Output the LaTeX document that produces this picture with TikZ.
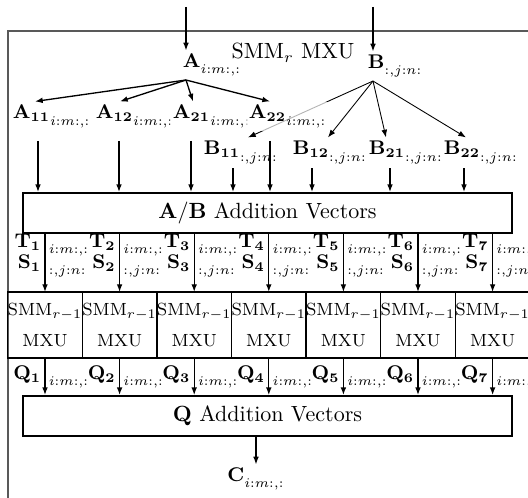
\documentclass[tikz,border=0pt]{standalone}
\usepackage{amsmath,amssymb,mathtools}
\usepackage{tikz}
\usetikzlibrary{positioning,arrows.meta,backgrounds}
\newcommand{\ixA}{_{\lower1.5pt\hbox{$\scriptstyle i:m:,:$}}}
\newcommand{\ixB}{_{\lower1.5pt\hbox{$\scriptstyle :,j:n:$}}}

\begin{document}
\begin{tikzpicture}[x=0.4545pt,y=-0.4545pt,semithick,>={Latex[length=3.5pt,width=2.6pt]},
    lbl/.style={font=\small,inner sep=1.5pt,fill=white,fill opacity=0.7,text opacity=1},
    tag/.style={font=\small,inner sep=1pt},
    bar/.style={draw,thick,minimum width=222.3pt,minimum height=18.2pt,inner sep=0pt},
    mxu/.style={draw,font=\footnotesize,minimum width=33.6pt,minimum height=30pt,
      align=center,inner sep=0pt,outer sep=0pt}]
  \useasboundingbox (0,0) rectangle (528,498);
  \clip (0,0) rectangle (528,498);
  % outer unit
  \draw[black!65] (8,31) rectangle (560,540);
  % inputs
  \coordinate (Ain) at (186,7);
  \coordinate (Bin) at (373,7);
  \node[lbl,anchor=base west] (A) at (179,68) {$\mathbf{A}\ixA$};
  \node[lbl,anchor=base west] (B) at (364,69) {$\mathbf{B}\ixB$};
  \node[anchor=base] (title) at (293,59) {SMM$_r$ MXU};
  \draw[->] (Ain) -- (Ain |- A.north);
  \draw[->] (Bin) -- (Bin |- B.north);
  % quarter blocks
  \foreach \n/\x in {11/9,12/92,21/169,22/245}
    \node[lbl,anchor=base west] (A\n) at (\x,119) {${\mathbf{A_{\n}}}\ixA$};
  \foreach \n/\x in {11/200,12/289,21/365,22/440}
    \node[lbl,anchor=base west] (B\n) at (\x,155) {${\mathbf{B_{\n}}}\ixB$};
  \node[bar] (AB) at (267.5,213) {$\mathbf{A}/\mathbf{B}$ Addition Vectors};
  % split arrows
  \foreach \n/\p/\q in {11/26/29,12/28/27,21/24/22,22/25/25} {
    \draw[->] (A.south -| Ain) -- ([shift={(\p,0)}]A\n.north west);
    \coordinate (a\n) at ([shift={(\q,0)}]A\n.south west);
    \draw[->,shorten <=4pt] (a\n) -- (a\n |- AB.north);
  }
  \begin{scope}[on background layer]
    \foreach \n/\p in {11/48,12/39,21/21,22/26}
      \draw[->] (B.south -| Bin) -- ([shift={(\p,0)}]B\n.north west);
  \end{scope}
  \foreach \n/\q in {11/33,12/23,21/25,22/24} {
    \coordinate (b\n) at ([shift={(\q,0)}]B\n.south west);
    \draw[->] (b\n) -- (b\n |- AB.north);
  }
  % sub-multipliers
  \node[mxu] (M1) at (45,325) {SMM$_{r-1}$\\[4.5pt]MXU};
  \foreach \i [count=\j from 1] in {2,...,7}
    \node[mxu,right=0pt of M\j] (M\i) {SMM$_{r-1}$\\[4.5pt]MXU};
  \node[bar] (Q) at (267.5,416) {$\mathbf{Q}$ Addition Vectors};
  \foreach \i in {1,...,7} {
    \draw[->] (M\i.north |- AB.south) -- (M\i.north);
    \draw[->] (M\i.south) -- (M\i.south |- Q.north);
    \node[tag,anchor=base east] (T\i) at ([shift={(-1,-44)}]M\i.north) {$\mathbf{T_{\i}}$};
    \node[tag,anchor=base west] (t\i) at ([shift={(1,-44)}]M\i.north) {$\ixA$};
    \node[tag,anchor=base east] (S\i) at ([shift={(-1,-23)}]M\i.north) {$\mathbf{S_{\i}}$};
    \node[tag,anchor=base west] (s\i) at ([shift={(1,-23)}]M\i.north) {$\ixB$};
    \node[tag,anchor=base east] (Q\i) at ([shift={(-1,22)}]M\i.south) {$\mathbf{Q_{\i}}$};
    \node[tag,anchor=base west] (q\i) at ([shift={(1,22)}]M\i.south) {$\ixA$};
  }
  % result
  \node[lbl,anchor=base] (C) at (256,482) {$\mathbf{C}\ixA$};
  \draw[->] (C.north |- Q.south) -- (C.north);
\end{tikzpicture}
\end{document}
